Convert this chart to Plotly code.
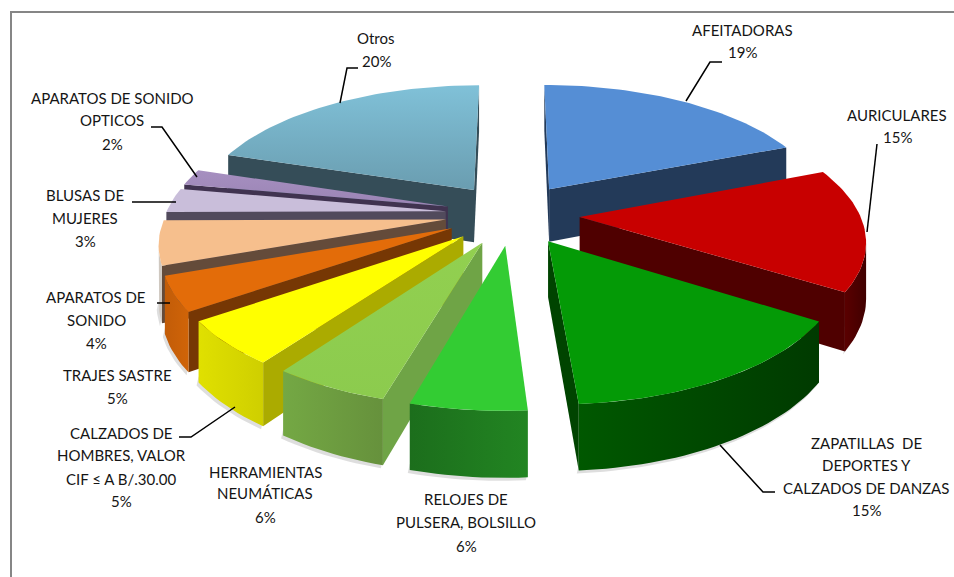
import math
import plotly.graph_objects as go

# ---- data ----
categories = ["AFEITADORAS", "AURICULARES", "ZAPATILLAS DE DEPORTES Y CALZADOS DE DANZAS",
              "RELOJES DE PULSERA, BOLSILLO", "HERRAMIENTAS NEUMÁTICAS",
              "CALZADOS DE HOMBRES, VALOR CIF ≤ A B/.30.00", "APARATOS DE SONIDO", "TRAJES SASTRE",
              "BLUSAS DE MUJERES", "APARATOS DE SONIDO OPTICOS", "Otros"]
# shares
values = [19, 15, 14.9, 5.5, 5.5, 5.4, 4.2, 5.4, 3, 2, 20.1]
# percentages as printed on the labels
printed_percent = [19, 15, 15, 6, 6, 5, 4, 5, 3, 2, 20]
label_lines = [["AFEITADORAS"], ["AURICULARES"], ["ZAPATILLAS  DE", "DEPORTES Y", "CALZADOS DE DANZAS"],
               ["RELOJES DE", "PULSERA, BOLSILLO"], ["HERRAMIENTAS", "NEUMÁTICAS"],
               ["CALZADOS DE", "HOMBRES, VALOR", "CIF ≤ A B/.30.00"], ["APARATOS DE", "SONIDO"],
               ["TRAJES SASTRE"], ["BLUSAS DE", "MUJERES"], ["APARATOS DE SONIDO", "OPTICOS"], ["Otros"]]

# ---- styles ----
# vertical gradients run bottom (first colour) to top (second colour) on the reversed y axis
top_colors = [["#558ED5", "#558ED5"], ["#C80000", "#C80000"], ["#049A06", "#049A06"], ["#33CC33", "#33CC33"],
              ["#8CCB4E", "#92D050"], ["#FFFF00", "#FFFF00"], ["#E36C09", "#E36C09"], ["#F6BF8D", "#F6BF8D"],
              ["#C9BEDA", "#C9BEDA"], ["#9A84B4", "#A68FC0"], ["#6A9DB0", "#80C1D8"]]
face_colors = ["#233A59", "#4F0000", "#004400", "#1F7A1F", "#6FA446", "#ABAB00", "#763704", "#644B3A",
               "#514A5C", "#403350", "#354D58"]
wall_colors = [["#233A59"] * 2, ["#5A0000", "#400000"], ["#005800", "#003A00"], ["#1C6E1C", "#228522"],
               ["#74A844", "#66913C"], ["#E0E000", "#CFCF00"], ["#C25C08", "#D06408"], ["#CFC8C0"] * 2,
               ["#8E85A0"] * 2, ["#6F5E85"] * 2, ["#354D58"] * 2]
draw_order = [10, 0, 1, 9, 8, 7, 6, 5, 4, 3, 2]

# ---- projection parameters of the 3-D pie ----
CX, CY = 512.5, 214
A, B, K = 280, 128, 0.157
HEIGHT = 54
EXPLODE = 0.24


def project(px, pv, drop=False):
    d = 1 + K * pv
    return CX + A * px / d, CY - B * pv / d + (HEIGHT / d if drop else 0)


def slice_outline(t0, t1):
    mid = (t0 + t1) / 2
    ex, ev = EXPLODE * math.sin(mid), EXPLODE * math.cos(mid)
    n = max(6, int((t1 - t0) / math.radians(1.5)))
    arc = [(ex + math.sin(t0 + (t1 - t0) * i / n), ev + math.cos(t0 + (t1 - t0) * i / n)) for i in range(n + 1)]
    return (ex, ev), arc


def poly(points, colors, kind=None):
    xs = [p[0] for p in points] + [points[0][0]]
    ys = [p[1] for p in points] + [points[0][1]]
    kw = dict(x=xs, y=ys, mode="lines", fill="toself", line=dict(width=0), hoverinfo="skip", showlegend=False)
    if kind:
        kw["fillgradient"] = dict(type=kind, colorscale=[[0, colors[0]], [1, colors[1]]])
    else:
        kw["fillcolor"] = colors
    return go.Scatter(**kw)


def quad(a, b):
    return [project(*a), project(*b), project(*b, True), project(*a, True)]


fig = go.Figure()
total = sum(values)
edges = [0]
for v in values:
    edges.append(edges[-1] + v)

for i in draw_order:
    t0, t1 = [2 * math.pi * e / total for e in (edges[i], edges[i + 1])]
    apex, arc = slice_outline(t0, t1)

    # soft shadow under the visible rim
    rim = [a for a, b in zip(arc, arc[1:]) if project(*b)[0] < project(*a)[0]]
    rim_pts = []
    if rim:
        rim_pts = rim + [arc[-1]] if project(*arc[-1])[0] < project(*arc[-2])[0] else rim
        low = [project(*p, True) for p in rim_pts]
        shade = [(x - 2, y + 3) for x, y in low] + [(x, y - 6) for x, y in reversed(low)]
        fig.add_trace(poly(shade, "rgba(0,0,0,0.13)"))

    # radial cut faces, only when they face the viewer
    for a, b in ((apex, arc[0]), (arc[-1], apex)):
        if project(*b)[0] < project(*a)[0]:
            fig.add_trace(poly(quad(a, b), face_colors[i]))

    # curved outer wall, only the part facing the viewer
    if rim:
        upper = [project(*p) for p in rim_pts]
        lower = [project(*p, True) for p in rim_pts]
        fig.add_trace(poly(upper + lower[::-1], wall_colors[i], "horizontal"))

    # top surface
    top = [project(*apex)] + [project(*p) for p in arc]
    fig.add_trace(poly(top, top_colors[i], "vertical"))

# ---- labels (horizontal centre, then the y of each text line, the last being the percentage) ----
label_pos = [(742, [30, 52]), (897, [115, 137]), (866, [443, 465, 488, 510]), (466, [499, 522, 546]),
             (265, [472, 493, 517]), (121, [433, 455, 479, 501]), (96, [297, 320, 343]), (117, [375, 398]),
             (85, [195, 218, 241]), (112, [98, 120, 144]), (376, [38, 61])]
annotations = []
for lines, v, (lx, ys) in zip(label_lines, printed_percent, label_pos):
    for text, ly in zip(lines + [f"{v}%"], ys):
        annotations.append(dict(x=lx, y=ly, text=text, showarrow=False, xanchor="center", yanchor="middle",
                                font=dict(family="Lato", size=15, color="#151515")))

leaders = [[(686, 101), (710, 62), (722, 62)], [(867, 232), (877, 144)],
           [(720, 445), (763, 492), (775, 492)], [(235, 407), (191, 437), (179, 437)],
           [(157, 303), (170, 303)], [(132, 202), (176, 202)],
           [(151, 127), (162, 127), (197, 177)], [(340, 103), (347, 68), (358, 68)]]
shapes = [dict(type="path", xref="x", yref="y", line=dict(color="black", width=1.5),
               path="M" + " L".join(f"{x},{y}" for x, y in pts)) for pts in leaders]
shapes.append(dict(type="rect", xref="x", yref="y", x0=11, y0=12, x1=990, y1=620,
                   line=dict(color="#868686", width=2), fillcolor="rgba(0,0,0,0)"))

fig.update_layout(width=954, height=577, margin=dict(l=0, r=0, t=0, b=0), paper_bgcolor="white",
                  plot_bgcolor="white", showlegend=False, annotations=annotations, shapes=shapes,
                  xaxis=dict(range=[0, 954], visible=False, fixedrange=True),
                  yaxis=dict(range=[577, 0], visible=False, fixedrange=True))
fig.write_html("out.html", post_script="document.body.style.margin='0';document.body.style.overflow='hidden';",
               config=dict(displayModeBar=False))
